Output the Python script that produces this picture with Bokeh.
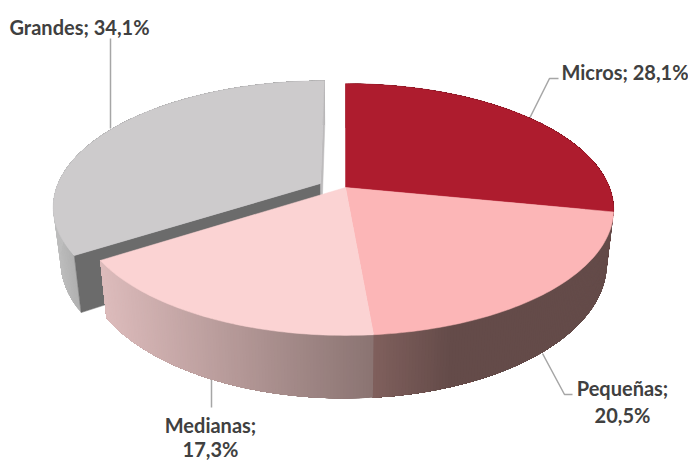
import math
from bokeh.plotting import figure
from bokeh.models import Range1d
from bokeh.core.properties import value
from bokeh.embed import file_html
from bokeh.resources import INLINE

categories = ["Micros", "Pequeñas", "Medianas", "Grandes"]
shares = [28.1, 20.5, 17.3, 34.1]
share_labels = ["28,1%", "20,5%", "17,3%", "34,1%"]
top_colors = ["#AE1C2E", "#FCB6B7", "#FBD3D3", "#CDCBCC"]

# projection of the tilted pie
CX, CY, A, B, K, DEPTH, SHRINK = 345.0, 187.0, 264.0, 122.0, 0.175, 52.0, 0.975
EXPLODE = {"Grandes": (-0.095, 0.033)}


def project(t, cat, bottom=False, rim=True):
    ex, ey = EXPLODE.get(cat, (0.0, 0.0))
    X = (math.sin(t) if rim else 0.0) + ex
    Y = (math.cos(t) if rim else 0.0) + ey
    w = 1 + K * Y
    x = A * X / w
    y = -B * Y / w
    if bottom:
        x *= SHRINK
        y += DEPTH / w
    return CX + x, CY + y


def frange(a, b, step=math.radians(1.0)):
    n = max(2, int(abs(b - a) / step) + 1)
    return [a + (b - a) * i / (n - 1) for i in range(n)]


def lerp(c1, c2, f):
    f = max(0.0, min(1.0, f))
    a = [int(c1[i:i + 2], 16) for i in (1, 3, 5)]
    b = [int(c2[i:i + 2], 16) for i in (1, 3, 5)]
    return "#%02x%02x%02x" % tuple(round(p + (q - p) * f) for p, q in zip(a, b))


def wall_color(cat, x):
    if cat == "Micros":
        return "#6a1a22"
    if cat == "Pequeñas":
        return lerp("#80605D", "#644B49", (x - 372) / 80)
    if cat == "Medianas":
        return lerp("#DCBBBB", "#8B7472", (x - 102) / 270)
    return lerp("#BDBDBD", "#A8A8A8", (x - 55) / 30)


p = figure(width=688, height=460, output_backend="svg", toolbar_location=None,
           x_range=Range1d(0, 688), y_range=Range1d(460, 0), min_border=0,
           outline_line_color=None, background_fill_color="white", border_fill_color="white")
p.axis.visible = False
p.grid.visible = False

# slice angles from values
angles = {}
acc = 0.0
for c, s in zip(categories, shares):
    angles[c] = (acc / 100 * 2 * math.pi, (acc + s) / 100 * 2 * math.pi)
    acc += s

# leader lines behind the pie
leader_x = [[529, 549, 558], [542, 564, 572], [211, 211], [110, 110]]
leader_y = [[118, 78, 78], [353, 394, 394], [375, 407], [128, 38]]
p.multi_line(leader_x, leader_y, line_color="#A6A6A6", line_width=1.5)


def draw_wall(cat):
    # nested bands, each reaching to the end of the slice, so no seam shows between colours
    t0, t1 = angles[cat]
    ts = frange(t0, t1, math.radians(0.6))
    for i in range(len(ts) - 1):
        rest = ts[i:]
        top = [project(t, cat) for t in rest[::3] + [rest[-1]]]
        bot = [project(t, cat, True) for t in reversed(rest[::3] + [rest[-1]])]
        mid = project((ts[i] + ts[i + 1]) / 2, cat)
        col = wall_color(cat, mid[0])
        p.patch([q[0] for q in top + bot], [q[1] for q in top + bot],
                fill_color=col, line_color=None)


def draw_top(cat, color):
    t0, t1 = angles[cat]
    pts = [project(t, cat) for t in frange(t0, t1)]
    apex = project(0, cat, rim=False)
    xs = [apex[0]] + [q[0] for q in pts]
    ys = [apex[1]] + [q[1] for q in pts]
    p.patch(xs, ys, fill_color=color, line_color=color, line_width=0.5)


# exploded slice first
g0, g1 = angles["Grandes"]
draw_wall("Grandes")
apex_t, apex_b = project(0, "Grandes", rim=False), project(0, "Grandes", True, rim=False)
rim_t, rim_b = project(g0, "Grandes"), project(g0, "Grandes", True)
p.patch([apex_t[0], rim_t[0], rim_b[0], apex_b[0]], [apex_t[1], rim_t[1], rim_b[1], apex_b[1]],
        fill_color="#6B6B6B", line_color="#6B6B6B", line_width=0.5)
end_t, end_b = project(g1, "Grandes"), project(g1, "Grandes", True)
p.patch([apex_t[0], end_t[0], end_b[0], apex_b[0]], [apex_t[1], end_t[1], end_b[1], apex_b[1]],
        fill_color="#BDBBBC", line_color="#BDBBBC", line_width=0.5)
draw_top("Grandes", top_colors[3])

for c in ["Micros", "Pequeñas", "Medianas"]:
    draw_wall(c)
for c, col in zip(categories[:3], top_colors[:3]):
    draw_top(c, col)

# labels
label_text = [categories[0] + "; " + share_labels[0], categories[1] + ";", share_labels[1],
              categories[2] + ";", share_labels[2], categories[3] + "; " + share_labels[3]]
label_x = [561, 622, 622, 210, 210, 9]
label_y = [71, 387, 414, 424, 448, 26]
label_align = ["left", "center", "center", "center", "center", "left"]
p.text(x=label_x, y=label_y, text=label_text, text_align=label_align, text_baseline="middle",
       text_font=value("Lato"), text_font_style="bold", text_font_size="20px", text_color="#404040")

open("out.html", "w").write(file_html(p, INLINE))
